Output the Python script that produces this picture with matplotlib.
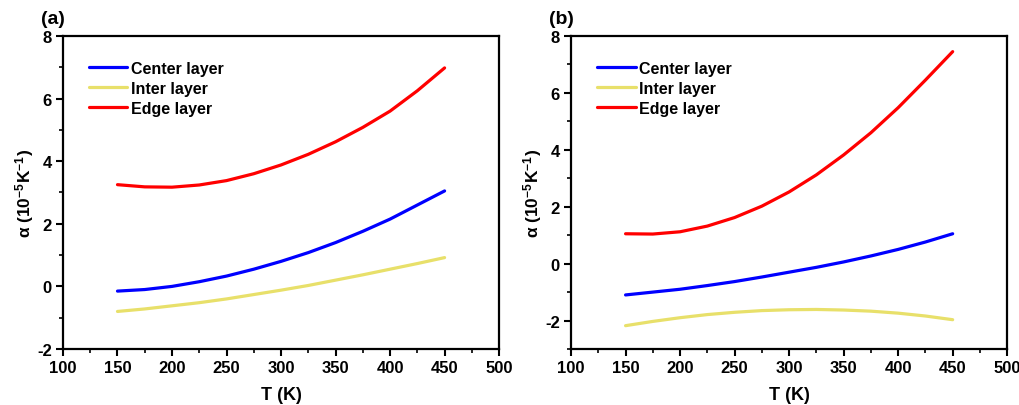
import matplotlib.pyplot as plt
from matplotlib.ticker import AutoMinorLocator

plt.rcParams['font.family'] = ['Liberation Sans', 'DejaVu Sans']
plt.rcParams['font.weight'] = 'bold'
plt.rcParams['axes.unicode_minus'] = False
plt.rcParams['mathtext.fontset'] = 'custom'
plt.rcParams['mathtext.rm'] = 'Liberation Sans:bold'
plt.rcParams['mathtext.bf'] = 'Liberation Sans:bold'
plt.rcParams['mathtext.default'] = 'bf'

T = [150, 175, 200, 225, 250, 275, 300, 325, 350, 375, 400, 425, 450]

# panel (a)
a_center = [-0.15, -0.10, 0.00, 0.15, 0.33, 0.55, 0.80, 1.08, 1.40, 1.76, 2.15, 2.60, 3.05]
a_inter = [-0.80, -0.72, -0.62, -0.52, -0.40, -0.26, -0.12, 0.03, 0.20, 0.37, 0.55, 0.73, 0.92]
a_edge = [3.25, 3.18, 3.17, 3.24, 3.38, 3.60, 3.88, 4.22, 4.62, 5.08, 5.60, 6.25, 6.98]

# panel (b)
b_center = [-1.10, -1.00, -0.90, -0.77, -0.63, -0.47, -0.30, -0.13, 0.06, 0.27, 0.50, 0.76, 1.05]
b_inter = [-2.18, -2.03, -1.90, -1.79, -1.71, -1.65, -1.62, -1.61, -1.63, -1.67, -1.74, -1.84, -1.97]
b_edge = [1.05, 1.04, 1.12, 1.32, 1.62, 2.02, 2.52, 3.12, 3.82, 4.60, 5.48, 6.45, 7.45]

labels = ["Center layer", "Inter layer", "Edge layer"]
colors = ["#0000FF", "#E8E06A", "#FF0000"]

fig = plt.figure(figsize=(10.19, 4.06), dpi=100)
ax1 = fig.add_axes([0.0618, 0.1379, 0.428, 0.771])
ax2 = fig.add_axes([0.5604, 0.1379, 0.428, 0.771])

panels = [(ax1, [a_center, a_inter, a_edge], (-2, 8), "(a)"),
          (ax2, [b_center, b_inter, b_edge], (-3, 8), "(b)")]

for ax, series, ylim, tag in panels:
    for ys, lab, c in zip(series, labels, colors):
        ax.plot(T, ys, color=c, lw=2.3, label=lab, solid_capstyle='round',
                solid_joinstyle='round')
    ax.set_xlim(100, 500)
    ax.set_ylim(*ylim)
    ax.set_xticks(range(100, 501, 50))
    ax.set_yticks(range(-2, 9, 2))
    ax.xaxis.set_minor_locator(AutoMinorLocator(2))
    ax.yaxis.set_minor_locator(AutoMinorLocator(2))
    ax.tick_params(which='major', direction='out', length=5, width=1.5,
                   labelsize=12, top=False, right=False, pad=3)
    ax.tick_params(which='minor', direction='out', length=3, width=1.2,
                   top=False, right=False)
    for s in ax.spines.values():
        s.set_linewidth(1.6)
    ax.set_xlabel("T (K)", fontsize=13, fontweight='bold', labelpad=8)
    ax.set_ylabel(r"α (10$^{-5}$K$^{-1}$)", fontsize=12.5,
                  fontweight='bold', labelpad=1)
    ax.text(-0.05, 1.03, tag, transform=ax.transAxes, fontsize=14,
            fontweight='bold', ha='left', va='bottom')
    leg = ax.legend(loc='upper left', bbox_to_anchor=(0.06, 0.92), frameon=False,
                    fontsize=11.5, handlelength=2.4, handletextpad=0.2,
                    labelspacing=0.3, borderaxespad=0, borderpad=0,
                    handleheight=0.7)
    for t in leg.get_texts():
        t.set_fontweight('bold')

fig.savefig("out.png", dpi=100)
